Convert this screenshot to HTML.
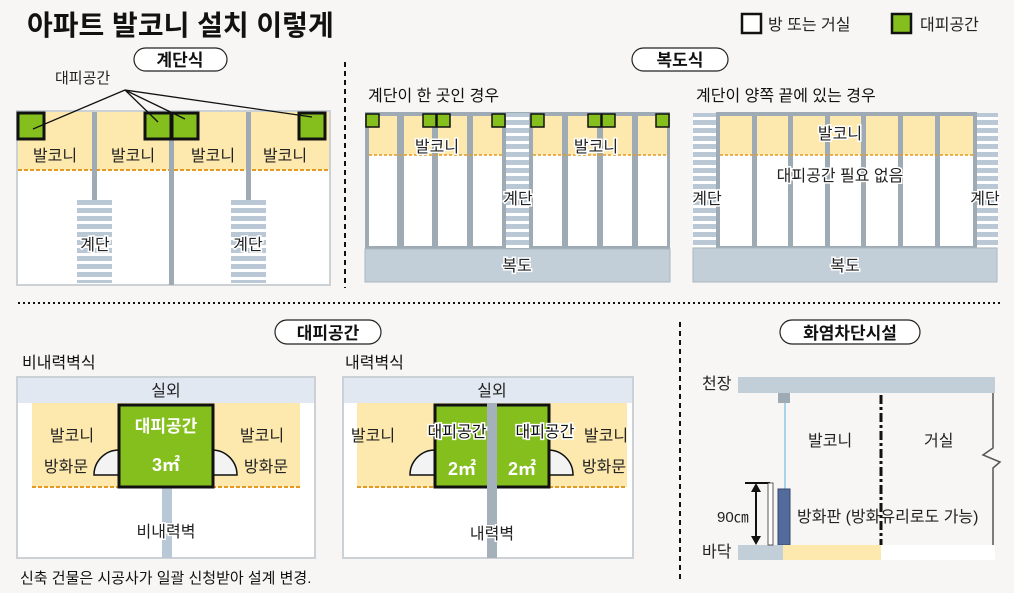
<!DOCTYPE html>
<html><head><meta charset="utf-8"><style>
html,body{margin:0;padding:0;background:#f8f6f4;}
svg{display:block;font-family:"Liberation Sans","Noto Sans CJK KR",sans-serif;}
</style></head><body>
<svg width="1014" height="593" viewBox="0 0 1014 593" xmlns="http://www.w3.org/2000/svg">
<defs>
<pattern id="st" width="10" height="8" patternUnits="userSpaceOnUse"><rect width="10" height="8" fill="#fff"/><rect width="10" height="5" fill="#b9c8d4"/></pattern>
</defs>
<rect width="1014" height="593" fill="#f8f6f4"/>
<text x="27" y="35" font-size="28" font-weight="bold" fill="#111">아파트 발코니 설치 이렇게</text>
<rect x="742" y="14" width="19" height="19" fill="#fff" stroke="#111" stroke-width="2.5"/>
<text x="768" y="30" font-size="16" fill="#222">방 또는 거실</text>
<rect x="892" y="14" width="19" height="19" fill="#84bf1e" stroke="#111" stroke-width="2.5"/>
<text x="920" y="30" font-size="16" fill="#222">대피공간</text>

<line x1="345" y1="62" x2="345" y2="288" stroke="#111" stroke-width="2" stroke-dasharray="5,4"/>
<line x1="18" y1="303" x2="1000" y2="303" stroke="#111" stroke-width="2" stroke-dasharray="2,3"/>
<line x1="680" y1="322" x2="680" y2="582" stroke="#111" stroke-width="2" stroke-dasharray="5,4"/>

<g font-size="17" font-weight="bold" fill="#111" text-anchor="middle">
<rect x="134" y="48" width="93" height="23" rx="11.5" fill="#fff" stroke="#222" stroke-width="1.2"/><text x="180" y="66">계단식</text>
<rect x="632" y="48" width="96" height="23" rx="11.5" fill="#fff" stroke="#222" stroke-width="1.2"/><text x="680" y="66">복도식</text>
<rect x="275" y="320" width="106" height="24" rx="12" fill="#fff" stroke="#222" stroke-width="1.2"/><text x="328" y="339">대피공간</text>
<rect x="780" y="320" width="140" height="24" rx="12" fill="#fff" stroke="#222" stroke-width="1.2"/><text x="850" y="339">화염차단시설</text>
</g>

<rect x="17" y="111" width="313" height="174" fill="#fff" stroke="#ccd1d5" stroke-width="2"/>
<rect x="18" y="112" width="311" height="58" fill="#fde9ad"/>
<line x1="18" y1="170" x2="329" y2="170" stroke="#e39a22" stroke-width="2" stroke-dasharray="4,2"/>
<rect x="77" y="200" width="35" height="83" fill="url(#st)"/>
<rect x="231" y="200" width="35" height="83" fill="url(#st)"/>
<rect x="92" y="112" width="5" height="88" fill="#9eabb4"/>
<rect x="169" y="112" width="5" height="173" fill="#9eabb4"/>
<rect x="246" y="112" width="5" height="88" fill="#9eabb4"/>
<g fill="#84bf1e" stroke="#111" stroke-width="3">
<rect x="18" y="113" width="26" height="26"/><rect x="145" y="113" width="26" height="26"/><rect x="172" y="113" width="26" height="26"/><rect x="299" y="113" width="26" height="26"/>
</g>
<g stroke="#111" stroke-width="1.3">
<line x1="125" y1="90" x2="33" y2="129"/><line x1="125" y1="90" x2="158" y2="122"/><line x1="125" y1="90" x2="185" y2="119"/><line x1="125" y1="90" x2="312" y2="117"/>
</g>
<text x="55" y="83" font-size="15" fill="#222">대피공간</text>
<g font-size="16" fill="#222" text-anchor="middle">
<text x="55" y="161">발코니</text><text x="133" y="161">발코니</text><text x="213" y="161">발코니</text><text x="285" y="161">발코니</text>
<text x="95" y="250" stroke="#fff" stroke-width="3" paint-order="stroke">계단</text><text x="248" y="250" stroke="#fff" stroke-width="3" paint-order="stroke">계단</text>
</g>

<text x="368" y="101" font-size="16" fill="#111">계단이 한 곳인 경우</text>
<rect x="365" y="112" width="305" height="137" fill="#9eabb4"/>
<g fill="#fff">
<rect x="369" y="116" width="28" height="130"/><rect x="404" y="116" width="28" height="130"/><rect x="438" y="116" width="29" height="130"/><rect x="473" y="116" width="29" height="130"/>
<rect x="533" y="116" width="29" height="130"/><rect x="568" y="116" width="29" height="130"/><rect x="603" y="116" width="29" height="130"/><rect x="638" y="116" width="29" height="130"/>
</g>
<g fill="#fde9ad">
<rect x="369" y="116" width="28" height="39"/><rect x="404" y="116" width="28" height="39"/><rect x="438" y="116" width="29" height="39"/><rect x="473" y="116" width="29" height="39"/>
<rect x="533" y="116" width="29" height="39"/><rect x="568" y="116" width="29" height="39"/><rect x="603" y="116" width="29" height="39"/><rect x="638" y="116" width="29" height="39"/>
</g>
<g stroke="#e39a22" stroke-width="1.5" stroke-dasharray="3,2"><line x1="369" y1="155" x2="502" y2="155"/><line x1="533" y1="155" x2="667" y2="155"/></g>
<rect x="506" y="113" width="23" height="135" fill="url(#st)"/>
<rect x="365" y="249" width="305" height="33" fill="#c2cfd9" stroke="#aab6c0"/>
<g fill="#84bf1e" stroke="#111" stroke-width="1.5">
<rect x="366" y="114" width="13" height="13"/><rect x="423" y="114" width="13" height="13"/><rect x="437" y="114" width="13" height="13"/><rect x="492" y="114" width="13" height="13"/>
<rect x="531" y="114" width="13" height="13"/><rect x="588" y="114" width="13" height="13"/><rect x="602" y="114" width="13" height="13"/><rect x="656" y="114" width="13" height="13"/>
</g>
<g font-size="16" fill="#222" text-anchor="middle" stroke="#fff" stroke-width="3" paint-order="stroke">
<text x="437" y="152">발코니</text><text x="596" y="152">발코니</text><text x="518" y="204">계단</text><text x="517" y="271">복도</text>
</g>

<text x="696" y="101" font-size="16" fill="#111">계단이 양쪽 끝에 있는 경우</text>
<rect x="693" y="113" width="24" height="134" fill="url(#st)"/>
<rect x="976" y="113" width="22" height="134" fill="url(#st)"/>
<rect x="716" y="112" width="261" height="137" fill="#9eabb4"/>
<g fill="#fff">
<rect x="720" y="116" width="32" height="130"/><rect x="757" y="116" width="31" height="130"/><rect x="793" y="116" width="32" height="130"/><rect x="830" y="116" width="31" height="130"/><rect x="866" y="116" width="32" height="130"/><rect x="903" y="116" width="32" height="130"/><rect x="940" y="116" width="33" height="130"/>
</g>
<g fill="#fde9ad">
<rect x="720" y="116" width="32" height="39"/><rect x="757" y="116" width="31" height="39"/><rect x="793" y="116" width="32" height="39"/><rect x="830" y="116" width="31" height="39"/><rect x="866" y="116" width="32" height="39"/><rect x="903" y="116" width="32" height="39"/><rect x="940" y="116" width="33" height="39"/>
</g>
<line x1="720" y1="155" x2="973" y2="155" stroke="#e39a22" stroke-width="1.5" stroke-dasharray="3,2"/>
<rect x="693" y="248" width="304" height="34" fill="#c2cfd9" stroke="#aab6c0"/>
<g font-size="16" fill="#222" text-anchor="middle" stroke="#fff" stroke-width="3" paint-order="stroke">
<text x="840" y="139">발코니</text><text x="840" y="181">대피공간 필요 없음</text><text x="707" y="204">계단</text><text x="985" y="204">계단</text><text x="845" y="271">복도</text>
</g>

<text x="22" y="368" font-size="16" fill="#111">비내력벽식</text>
<rect x="17" y="377" width="298" height="181" fill="#fff" stroke="#ccd1d5" stroke-width="2"/>
<rect x="18" y="378" width="296" height="25" fill="#e1e8f1"/>
<rect x="32" y="403" width="268" height="84" fill="#fde9ad"/>
<line x1="32" y1="487" x2="300" y2="487" stroke="#e39a22" stroke-width="2" stroke-dasharray="4,2"/>
<rect x="162" y="487" width="10" height="71" fill="#b8c8d6"/>
<path d="M94 475 A25 25 0 0 1 119 450 L119 475 Z" fill="#f3f3f3" stroke="#111" stroke-width="1.5"/>
<path d="M237 475 A25 25 0 0 0 212 450 L212 475 Z" fill="#f3f3f3" stroke="#111" stroke-width="1.5"/>
<rect x="119" y="405" width="94" height="82" fill="#84bf1e" stroke="#111" stroke-width="3"/>
<text x="166" y="432" font-size="17" font-weight="bold" fill="#fff" text-anchor="middle">대피공간</text>
<text x="166" y="471" font-size="18" font-weight="bold" fill="#fff" text-anchor="middle">3㎡</text>
<g font-size="16" fill="#222" text-anchor="middle">
<text x="166" y="396">실외</text><text x="72" y="441">발코니</text><text x="66" y="472">방화문</text><text x="262" y="441">발코니</text><text x="266" y="472">방화문</text>
<text x="166" y="537" stroke="#fff" stroke-width="3" paint-order="stroke">비내력벽</text>
</g>
<text x="20" y="583" font-size="15" fill="#111">신축 건물은 시공사가 일괄 신청받아 설계 변경.</text>

<text x="345" y="368" font-size="16" fill="#111">내력벽식</text>
<rect x="343" y="377" width="290" height="181" fill="#fff" stroke="#ccd1d5" stroke-width="2"/>
<rect x="344" y="378" width="288" height="25" fill="#e1e8f1"/>
<rect x="357" y="403" width="270" height="84" fill="#fde9ad"/>
<line x1="357" y1="487" x2="627" y2="487" stroke="#e39a22" stroke-width="2" stroke-dasharray="4,2"/>
<path d="M410 475 A25 25 0 0 1 435 450 L435 475 Z" fill="#f3f3f3" stroke="#111" stroke-width="1.5"/>
<path d="M573 475 A25 25 0 0 0 549 450 L549 475 Z" fill="#f3f3f3" stroke="#111" stroke-width="1.5"/>
<rect x="435" y="405" width="114" height="82" fill="#84bf1e" stroke="#111" stroke-width="3"/>
<rect x="487" y="403" width="10" height="155" fill="#a4b1bb"/>
<g font-size="16" fill="#111" text-anchor="middle" stroke="#fff" stroke-width="3" paint-order="stroke">
<text x="457" y="437">대피공간</text><text x="545" y="437">대피공간</text>
</g>
<g font-size="18" font-weight="bold" fill="#fff" text-anchor="middle"><text x="462" y="475">2㎡</text><text x="522" y="475">2㎡</text></g>
<g font-size="16" fill="#222" text-anchor="middle">
<text x="492" y="396">실외</text><text x="373" y="441">발코니</text><text x="606" y="441">발코니</text><text x="604" y="472">방화문</text>
<text x="492" y="539" stroke="#fff" stroke-width="3" paint-order="stroke">내력벽</text>
</g>

<text x="702" y="389" font-size="16" fill="#222">천장</text>
<rect x="738" y="377" width="257" height="16" fill="#c2cfd9"/>
<rect x="778" y="393" width="12" height="10" fill="#9eabb4"/>
<line x1="785" y1="403" x2="785" y2="490" stroke="#a9d3ea" stroke-width="2"/>
<rect x="778" y="489" width="12" height="56" fill="#536b9c" stroke="#34476f"/>
<line x1="881" y1="395" x2="881" y2="545" stroke="#111" stroke-width="3" stroke-dasharray="9,3,3,3"/>
<path d="M993 393 L993 448 L983 455 L1000 462 L993 468 L993 545" fill="none" stroke="#555" stroke-width="1.5"/>
<rect x="738" y="545" width="45" height="15" fill="#c2cfd9"/>
<rect x="783" y="545" width="98" height="15" fill="#fde9ad"/>
<rect x="881" y="545" width="114" height="15" fill="#fff"/>
<text x="702" y="557" font-size="16" fill="#222">바닥</text>
<line x1="745" y1="483" x2="770" y2="483" stroke="#111" stroke-width="2"/>
<line x1="756" y1="486" x2="756" y2="543" stroke="#111" stroke-width="2"/>
<path d="M751 492 L756 483 L761 492 Z M751 536 L756 545 L761 536 Z" fill="#111"/>
<rect x="768" y="483" width="5" height="62" fill="#fff" stroke="#333" stroke-width="0.8"/>
<text x="717" y="522" font-size="15" fill="#222">90㎝</text>
<g font-size="16" fill="#222">
<text x="808" y="446">발코니</text><text x="924" y="446">거실</text><text x="797" y="522">방화판 (방화유리로도 가능)</text>
</g>
</svg>
</body></html>
